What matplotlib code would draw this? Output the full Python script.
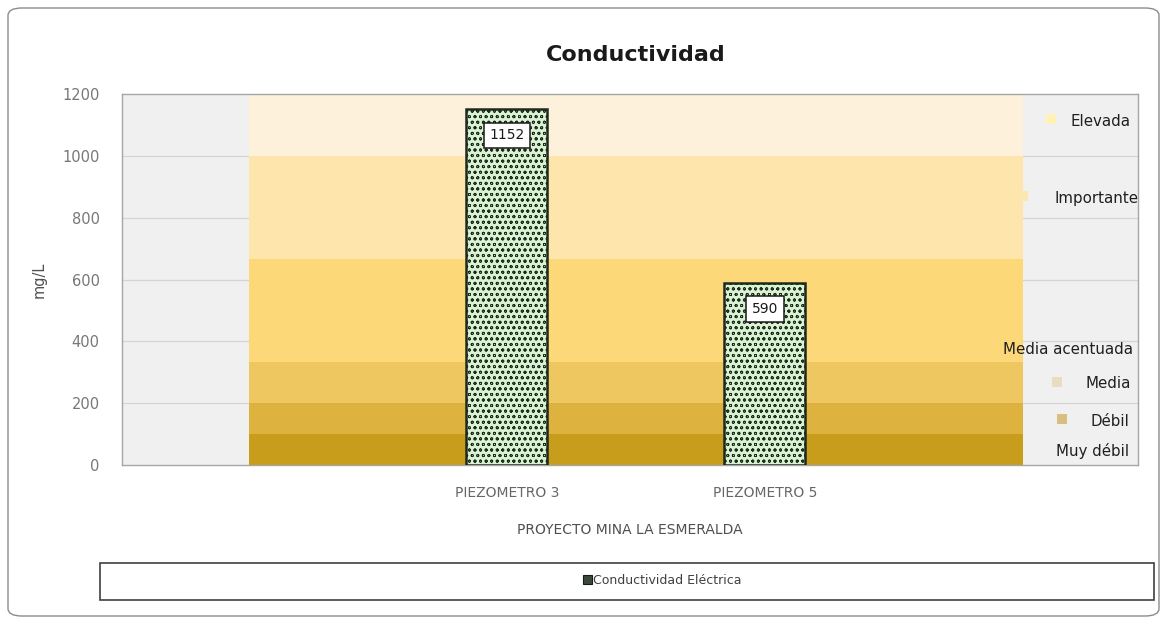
import matplotlib
matplotlib.use("Agg")
import matplotlib.pyplot as plt
from matplotlib.patches import FancyBboxPatch, Rectangle
import matplotlib as mpl

plt.rcParams['font.family'] = ['DejaVu Sans']

# ---- data ----
categories = ["", "PIEZOMETRO 3", "PIEZOMETRO 5", ""]
values = [None, 1152, 590, None]
band_names = ["Muy débil", "Débil", "Media", "Media acentuada", "Importante", "Elevada"]
band_limits = [0, 100, 200, 333, 667, 1000, 1200]
band_colors = ["#C99D1C", "#DDB23E", "#EEC760", "#FDD878", "#FDE5AC", "#FDF1DB"]
marker_colors = ["#C99D1C", "#D8BE80", "#E9DCC0", "#FDD878", "#FBE7B0", "#FFF2B8"]
series_name = "Conductividad Eléctrica"
title = "Conductividad"
xlabel = "PROYECTO MINA LA ESMERALDA"
ylabel = "mg/L"
yticks = [0, 200, 400, 600, 800, 1000, 1200]

W, H = 1167, 620
fig = plt.figure(figsize=(W / 100, H / 100), dpi=100)
fig.patch.set_facecolor("white")

# outer rounded frame
frame = FancyBboxPatch((8 / W, 4 / H), 1151 / W, 608 / H,
                       boxstyle="round,pad=0,rounding_size=0.012",
                       transform=fig.transFigure, fill=False,
                       edgecolor="#8C8C8C", linewidth=1.0)
fig.patches.append(frame)

L, R, T, B = 122, 1138, 94, 465
ax = fig.add_axes([L / W, (H - B) / H, (R - L) / W, (B - T) / H])
ax.set_facecolor("#F0F0F0")
ax.set_xlim(-0.492, 3.446)
ax.set_ylim(0, 1200)

# gridlines
for yv in yticks[1:-1]:
    ax.axhline(yv, color="#D4D4D4", linewidth=0.9, zorder=1)

# bands (area from first to last category)
xs = [0, 3.0]
for i in range(len(band_names)):
    ax.fill_between(xs, band_limits[i], band_limits[i + 1],
                    color=band_colors[i], linewidth=0, zorder=2)

# bars
mpl.rcParams['hatch.color'] = "#356E3E"
mpl.rcParams['hatch.linewidth'] = 0.6
xpos = [i for i, v in enumerate(values) if v is not None]
vals = [v for v in values if v is not None]
bars = ax.bar(xpos, vals, width=0.314, facecolor="#D8F2D2", edgecolor="#1E2A1E",
              hatch="ooo", linewidth=1.8, zorder=4)

# value labels
for x, v in zip(xpos, vals):
    ax.annotate(str(v), xy=(x, v), xytext=(0, -19), textcoords="offset points",
                ha="center", va="center", fontsize=10, color="#1A1A1A",
                bbox=dict(boxstyle="square,pad=0.4", facecolor="white",
                          edgecolor="#1A1A1A", linewidth=1.1),
                zorder=6)

# band labels at right
label_y = [45, 142, 262, 372, 861, 1110]
label_x_px = [1129, 1129, 1131, 1133, 1138, 1131]
marker_x_px = [None, 1062, 1057, None, 1023, 1051]
span = ax.get_xlim()[1] - ax.get_xlim()[0]
for name, yv, lx, mx, col in zip(band_names, label_y, label_x_px, marker_x_px, marker_colors):
    xl = ax.get_xlim()[0] + (lx - L) / (R - L) * span
    ax.text(xl, yv, name, ha="right", va="center", fontsize=10.8,
            color="#1F1F1F", zorder=7)
    if mx is not None:
        xm = ax.get_xlim()[0] + (mx - L) / (R - L) * span
        ax.plot([xm], [yv + 8], marker="s", markersize=6.5, color=col,
                markeredgewidth=0, zorder=7)

ax.set_xticks(range(len(categories)))
ax.set_xticklabels(categories, fontsize=10, color="#666666")
ax.set_yticks(yticks)
ax.set_yticklabels([str(t) for t in yticks], fontsize=10.5, color="#777777")
ax.tick_params(axis="y", length=0, pad=16)
ax.tick_params(axis="x", length=0, pad=15)
for s in ax.spines.values():
    s.set_color("#A6A6A6")
    s.set_linewidth(1.0)

ax.set_xlabel(xlabel, fontsize=10, color="#505050", labelpad=17)
ax.set_ylabel(ylabel, fontsize=10.5, color="#505050", labelpad=11)
fig.text(636 / W, 1 - 55 / H, title, ha="center", va="center",
         fontsize=16, fontweight="bold", color="#1A1A1A")

# legend box
lb = Rectangle((100 / W, 1 - 600 / H), 1054 / W, 37 / H, transform=fig.transFigure,
               fill=True, facecolor="white", edgecolor="#404040", linewidth=1.2)
fig.patches.append(lb)
mk = Rectangle((583 / W, 1 - 584 / H), 9 / W, 9 / H, transform=fig.transFigure,
               facecolor="#3A4A3A", edgecolor="#1A1A1A", linewidth=0.8)
fig.patches.append(mk)
fig.text(593 / W, 1 - 580 / H, series_name, ha="left", va="center",
         fontsize=9, color="#404040")

fig.savefig("out.png", dpi=100)
